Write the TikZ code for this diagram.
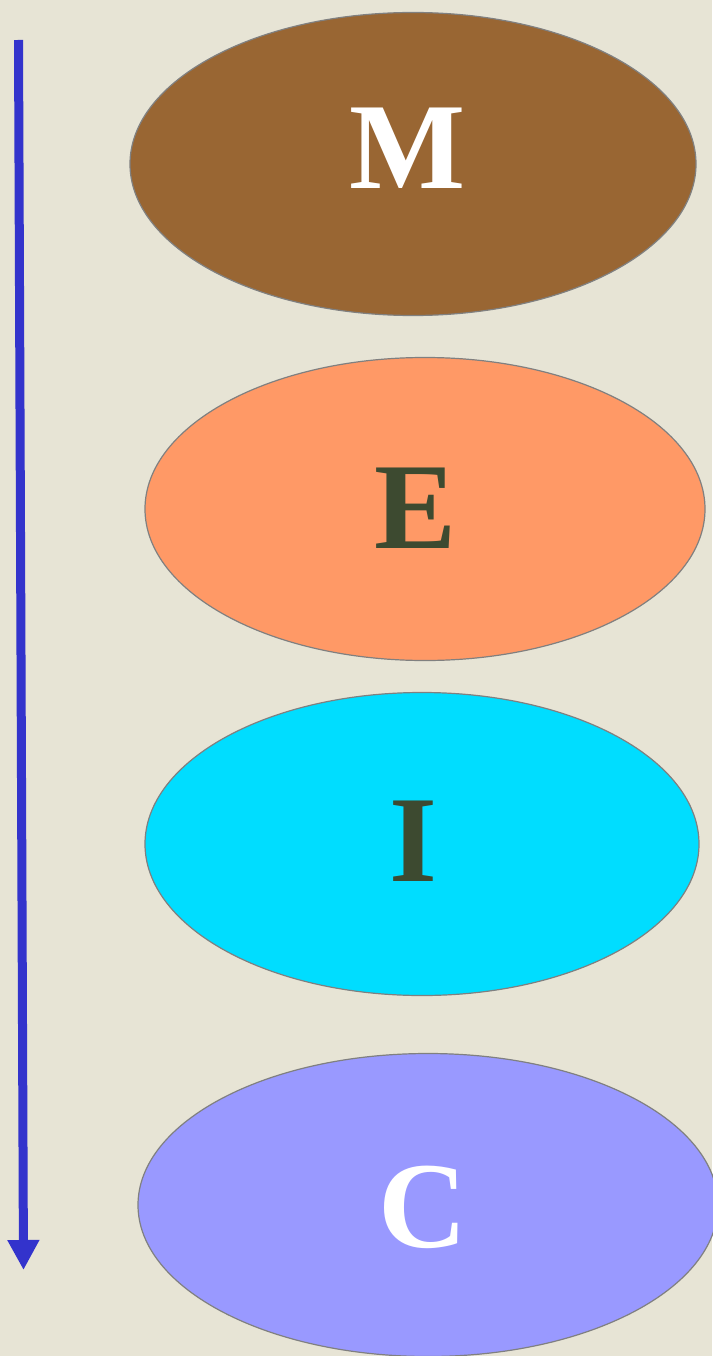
\documentclass[tikz,border=0pt]{standalone}
\usepackage{fontspec}
\setmainfont{Liberation Serif}
\usepackage{tikz}
\usetikzlibrary{arrows.meta, shapes.geometric}

\definecolor{paper}{HTML}{E7E4D5}
\definecolor{mbrown}{HTML}{996633}
\definecolor{eorange}{HTML}{FF9966}
\definecolor{icyan}{HTML}{00DDFF}
\definecolor{clilac}{HTML}{9999FF}
\definecolor{darkolive}{HTML}{3D4A30}
\definecolor{flowblue}{HTML}{3333CC}

\begin{document}
\begin{tikzpicture}[
    x=1pt, y=-1pt,
    % Styles
    stage/.style={ellipse, draw=gray, line width=1.2pt, inner sep=0pt, minimum width=560pt, minimum height=303pt},
    letter/.style={font=\fontsize{123}{123}\selectfont\bfseries, inner sep=0pt},
    flow/.style={draw=flowblue, line width=9pt, -{Triangle[length=30pt, width=30pt]}}
]
% --- Paper background ---
\fill[paper] (0,0) rectangle (712,1356);
\useasboundingbox (0,0) rectangle (712,1356);

% --- Stages ---
\node[stage, fill=mbrown, minimum width=566pt] (stage_m) at (413,164) {};
\node[stage, fill=eorange] (stage_e) at (425,509) {};
\node[stage, fill=icyan, minimum width=554pt] (stage_i) at (422,844) {};
\node[stage, fill=clilac, minimum width=580pt] (stage_c) at (428,1205) {};

% --- Letters ---
\node[letter, white] (m_txt) at ([shift={(-5,-16)}]stage_m.center) {M};
\node[letter, darkolive] (e_txt) at ([shift={(-9,-1)}]stage_e.center) {E};
\node[letter, darkolive] (i_txt) at ([shift={(-9,-3)}]stage_i.center) {I};
\node[letter, white] (c_txt) at ([shift={(-5,2)}]stage_c.center) {C};

% --- Direction arrow ---
\coordinate (flow_start) at (18.5,40);
\coordinate (flow_end) at (23.5,1270);
\draw[flow] (flow_start) -- (flow_end);

\end{tikzpicture}
\end{document}
